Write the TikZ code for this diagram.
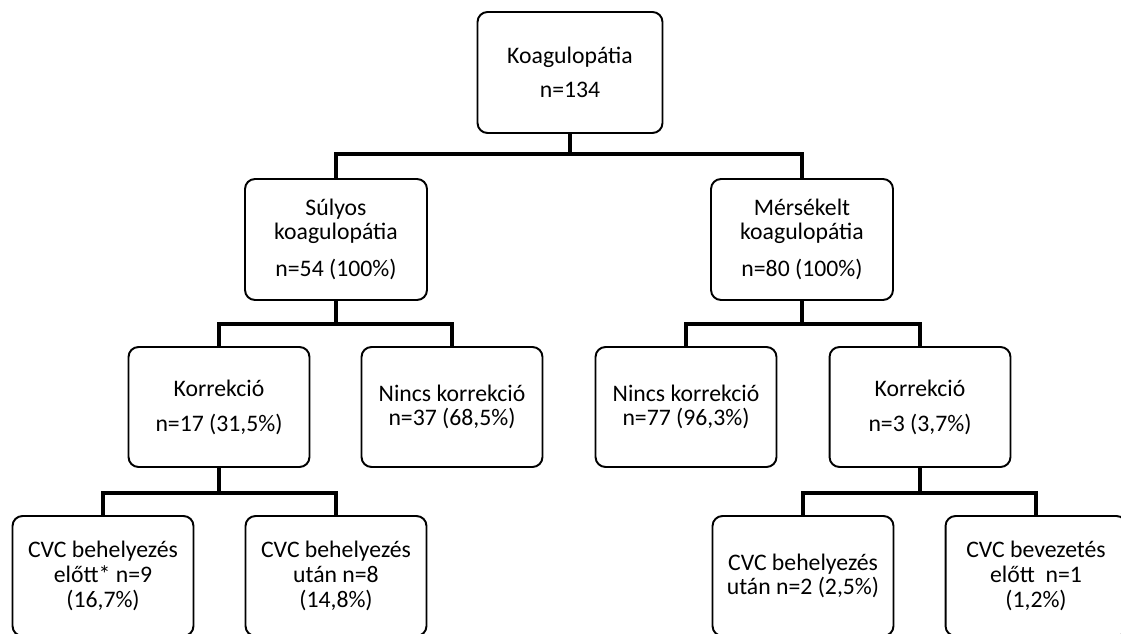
\documentclass[tikz,border=0pt]{standalone}
\usepackage{fontspec}
\setmainfont{Carlito}
\begin{document}
\begin{tikzpicture}[
    x=0.02cm, y=-0.02cm,
    box/.style={draw=black, line width=1.1pt, rounded corners=0.2cm, fill=white, align=center,
                font=\fontsize{13.5}{14}\selectfont, inner sep=2pt},
    topbox/.style={box, minimum width=3.7cm, minimum height=2.42cm},
    midbox/.style={box, minimum width=3.64cm, minimum height=2.42cm},
    lowbox/.style={box, minimum width=3.62cm, minimum height=2.4cm},
    conn/.style={line width=2.3pt}
]
\clip (0,0) rectangle (1121,634);

\node[topbox] (koag) at (570, 72.5) {Koagulopátia\\[5.5pt]n=134};

\node[midbox] (suly) at (336, 239.5) {Súlyos\\koagulopátia\\[7pt]n=54 (100\%)};
\node[midbox] (merse) at (802, 239.5) {Mérsékelt\\koagulopátia\\[7pt]n=80 (100\%)};

\node[lowbox] (korrL) at (219, 407) {Korrekció\\[6pt]n=17 (31,5\%)};
\node[lowbox] (nincsL) at (452, 407) {Nincs korrekció\\n=37 (68,5\%)};
\node[lowbox] (nincsR) at (686, 407) {Nincs korrekció\\n=77 (96,3\%)};
\node[lowbox] (korrR) at (920, 407) {Korrekció\\[6pt]n=3 (3,7\%)};

\node[lowbox] (cvc1) at (103, 576) {CVC behelyezés\\előtt* n=9\\(16,7\%)};
\node[lowbox] (cvc2) at (336, 576) {CVC behelyezés\\után n=8\\(14,8\%)};
\node[lowbox] (cvc3) at (803, 576) {CVC behelyezés\\után n=2 (2,5\%)};
\node[lowbox] (cvc4) at (1036, 576) {CVC bevezetés\\előtt\ \ n=1\\(1,2\%)};

\draw[conn] (koag.south) -- ++(0,20) -| (suly.north);
\draw[conn] (koag.south) -- ++(0,20) -| (merse.north);

\draw[conn] (suly.south) -- ++(0,23) -| (korrL.north);
\draw[conn] (suly.south) -- ++(0,23) -| (nincsL.north);
\draw[conn] (merse.south) -- ++(0,23) -| (nincsR.north);
\draw[conn] (merse.south) -- ++(0,23) -| (korrR.north);

\draw[conn] (korrL.south) -- ++(0,25) -| (cvc1.north);
\draw[conn] (korrL.south) -- ++(0,25) -| (cvc2.north);
\draw[conn] (korrR.south) -- ++(0,25) -| (cvc3.north);
\draw[conn] (korrR.south) -- ++(0,25) -| (cvc4.north);

\end{tikzpicture}
\end{document}
